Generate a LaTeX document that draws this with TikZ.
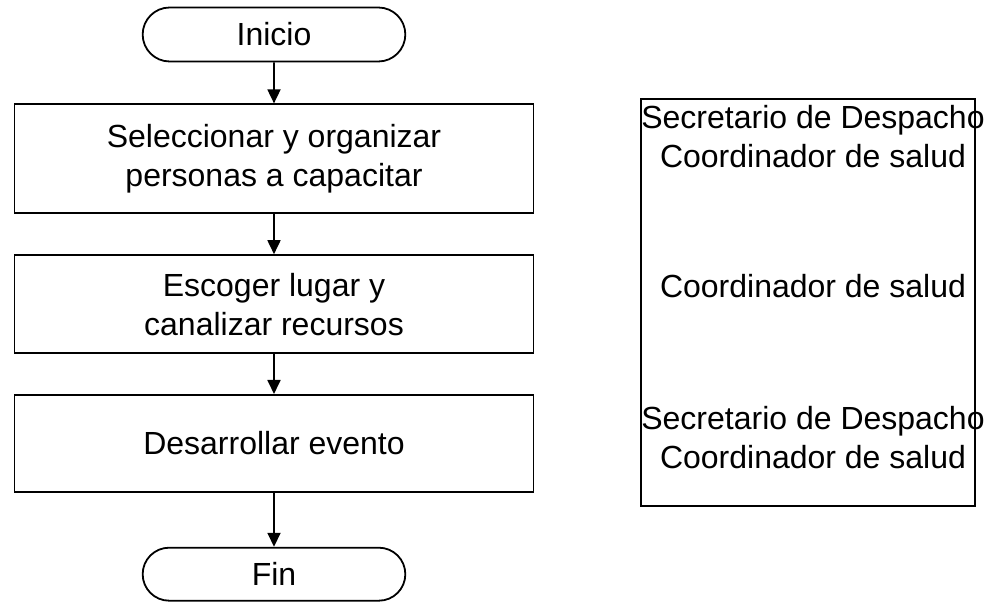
\documentclass[tikz,border=0pt]{standalone}
\usepackage{fontspec}
\setmainfont{Liberation Sans}
\usetikzlibrary{shapes,arrows.meta,positioning}
\newcommand{\flowfont}{\fontsize{16}{19.5}\selectfont}

\begin{document}
\begin{tikzpicture}[
      x=0.5pt, y=-0.5pt,
      node distance=20pt,
      terminal/.style={rounded rectangle, draw, line width=0.9pt, minimum width=138pt, minimum height=27pt, font=\flowfont},
      box/.style={rectangle, draw, line width=0.9pt, text centered, align=center, minimum width=259.5pt, font=\flowfont},
      role/.style={align=center, inner sep=0pt, font=\flowfont},
      arrow/.style={-{Triangle[length=7pt,width=6.5pt]}, line width=0.9pt}
    ]
      \useasboundingbox (0,0) rectangle (992,603);

      % flujo del proceso
      \node[terminal] (inicio) at (274,34.5) {Inicio};
      \node[box, minimum height=54.5pt, below=20.5pt of inicio] (select) {Seleccionar y organizar\\personas a capacitar};
      \node[box, minimum height=49pt, below=of select] (lugar) {Escoger lugar y\\canalizar recursos};
      \node[box, minimum height=48.5pt, below=of lugar] (evento) {Desarrollar evento};
      \node[terminal, minimum height=26.5pt, below=27pt of evento] (fin) {Fin};

      % responsables
      \node[draw, line width=0.9pt, inner sep=0pt, minimum width=167pt, minimum height=203.5pt] (resp) at (808,302.5) {};
      \node[role] (resp1) at (813,137) {Secretario de Despacho\\Coordinador de salud};
      \node[role] (resp2) at (813,286.5) {Coordinador de salud};
      \node[role] (resp3) at (813,437.5) {Secretario de Despacho\\Coordinador de salud};

      \draw[arrow] (inicio) -- (select);
      \draw[arrow] (select) -- (lugar);
      \draw[arrow] (lugar) -- (evento);
      \draw[arrow] (evento) -- (fin);
    \end{tikzpicture}
\end{document}
